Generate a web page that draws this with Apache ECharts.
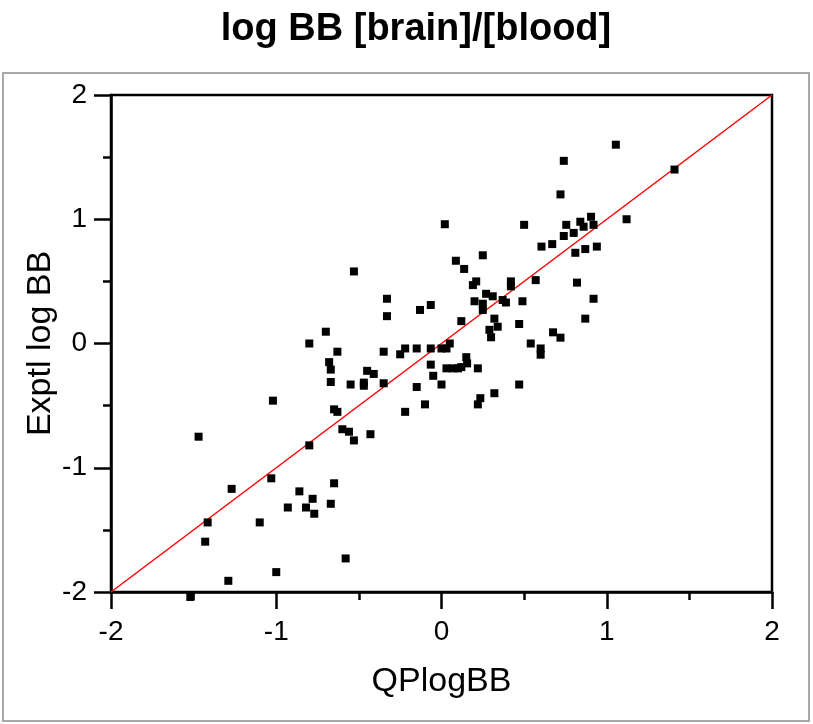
<!DOCTYPE html>
<html><head><meta charset="utf-8">
<script src="https://cdn.jsdelivr.net/npm/echarts@6/dist/echarts.min.js"></script>
<style>html,body{margin:0;padding:0;background:#fff}#c{width:813px;height:724px}</style>
</head><body><div id="c"></div>
<script>
const titleText = "log BB [brain]/[blood]";
const xName = "QPlogBB";
const yName = "Exptl log BB";
const xTicks = [-2, -1, 0, 1, 2];
const yTicks = [-2, -1, 0, 1, 2];
const qpLogBB = [1.055,0.74,1.41,0.72,0.02,0.50,0.755,0.84,0.905,0.92,0.86,0.80,0.74,1.12,0.605,0.67,0.81,0.87,0.94,0.087,0.137,0.25,0.19,0.21,0.42,0.42,0.57,0.82,0.27,0.31,0.20,0.25,0.25,0.37,0.39,0.49,0.92,-0.065,-0.13,0.12,0.32,0.29,0.34,0.30,0.47,0.87,0.675,0.72,0.54,0.60,0.60,-0.53,-0.33,-0.33,-0.70,-0.80,-0.63,-0.68,-0.67,-0.67,-0.35,-0.25,-0.22,-0.15,-0.065,0.0,0.03,0.05,-0.065,-0.05,0.0,-0.15,-0.10,-0.22,0.03,0.07,0.10,0.12,0.15,0.155,0.22,0.32,0.235,0.22,0.47,-0.45,-0.41,-0.55,-0.47,-0.47,-0.35,-0.65,-0.63,-0.60,-0.56,-0.53,-0.43,-0.80,-1.02,-1.47,-1.03,-1.27,-0.65,-0.86,-0.78,-0.67,-0.93,-0.82,-0.77,-1.415,-1.10,-1.43,-0.58,-1.00,-1.29,-1.52];
const exptlLogBB = [1.60,1.47,1.40,1.20,0.96,0.955,0.955,0.98,1.02,0.955,0.94,0.89,0.865,1.00,0.78,0.80,0.73,0.76,0.78,0.666,0.60,0.71,0.47,0.50,0.50,0.46,0.51,0.49,0.40,0.38,0.34,0.32,0.27,0.35,0.33,0.34,0.36,0.31,0.27,0.18,0.20,0.11,0.135,0.05,0.157,0.20,0.09,0.047,0.0,-0.04,-0.09,0.58,0.36,0.22,0.095,0.0,-0.066,-0.15,-0.21,-0.31,-0.066,-0.087,-0.04,-0.04,-0.04,-0.04,-0.04,0.0,-0.17,-0.26,-0.33,-0.35,-0.49,-0.55,-0.20,-0.20,-0.20,-0.19,-0.11,-0.16,-0.20,-0.40,-0.44,-0.49,-0.33,-0.22,-0.245,-0.33,-0.315,-0.34,-0.32,-0.53,-0.55,-0.69,-0.71,-0.78,-0.73,-0.82,-0.46,-0.75,-1.085,-1.17,-1.125,-1.19,-1.25,-1.29,-1.32,-1.32,-1.37,-1.44,-1.44,-1.595,-1.73,-1.84,-1.91,-2.04];
const identityX = [-2, 2];
const identityY = [-2, 2];

const FONT = '"Liberation Sans", Arial, sans-serif';
const pts = qpLogBB.map((x, i) => [x, exptlLogBB[i]]);
const line = identityX.map((x, i) => [x, identityY[i]]);

const chart = echarts.init(document.getElementById('c'), null, {renderer: 'canvas'});
const axisCommon = {
  min: -2, max: 2, interval: 1,
  axisLine: {show: true, onZero: false, lineStyle: {color: '#000', width: 2.5}},
  axisTick: {show: true, inside: false, length: 17, lineStyle: {color: '#000', width: 2.5}},
  minorTick: {show: true, splitNumber: 2, length: 8, lineStyle: {color: '#000', width: 2.5}},
  splitLine: {show: false},
  axisLabel: {color: '#000', fontSize: 28, fontFamily: FONT},
  nameTextStyle: {color: '#000', fontSize: 34, fontFamily: FONT},
  nameLocation: 'middle',
  nameMoveOverlap: false
};
chart.setOption({
  animation: false,
  backgroundColor: '#fff',
  title: {text: titleText, left: 411, textAlign: 'center', top: 6,
    textStyle: {fontSize: 38, fontWeight: 'bold', color: '#000', fontFamily: FONT}},
  graphic: [{type: 'rect', shape: {x: 3, y: 73, width: 806, height: 648},
    style: {fill: 'none', stroke: '#a8a8a8', lineWidth: 2}, z: -1}],
  grid: {left: 111, right: 41, top: 95, bottom: 132, show: true, borderColor: '#000', borderWidth: 2.5, backgroundColor: 'transparent'},
  xAxis: Object.assign({}, axisCommon, {type: 'value', name: xName, nameGap: 73,
    axisLabel: Object.assign({}, axisCommon.axisLabel, {margin: 26, formatter: v => xTicks.includes(v) ? String(v) : ''})}),
  yAxis: Object.assign({}, axisCommon, {type: 'value', name: yName, nameGap: 53,
    axisLabel: Object.assign({}, axisCommon.axisLabel, {margin: 24, formatter: v => yTicks.includes(v) ? String(v) : ''})}),
  series: [
    {type: 'line', data: line, symbol: 'none', lineStyle: {color: '#ff0000', width: 1.5}, z: 3, silent: true},
    {type: 'scatter', data: pts, symbol: 'rect', symbolSize: 8, itemStyle: {color: '#000', opacity: 1}, clip: false, z: 4}
  ]
});
</script></body></html>
